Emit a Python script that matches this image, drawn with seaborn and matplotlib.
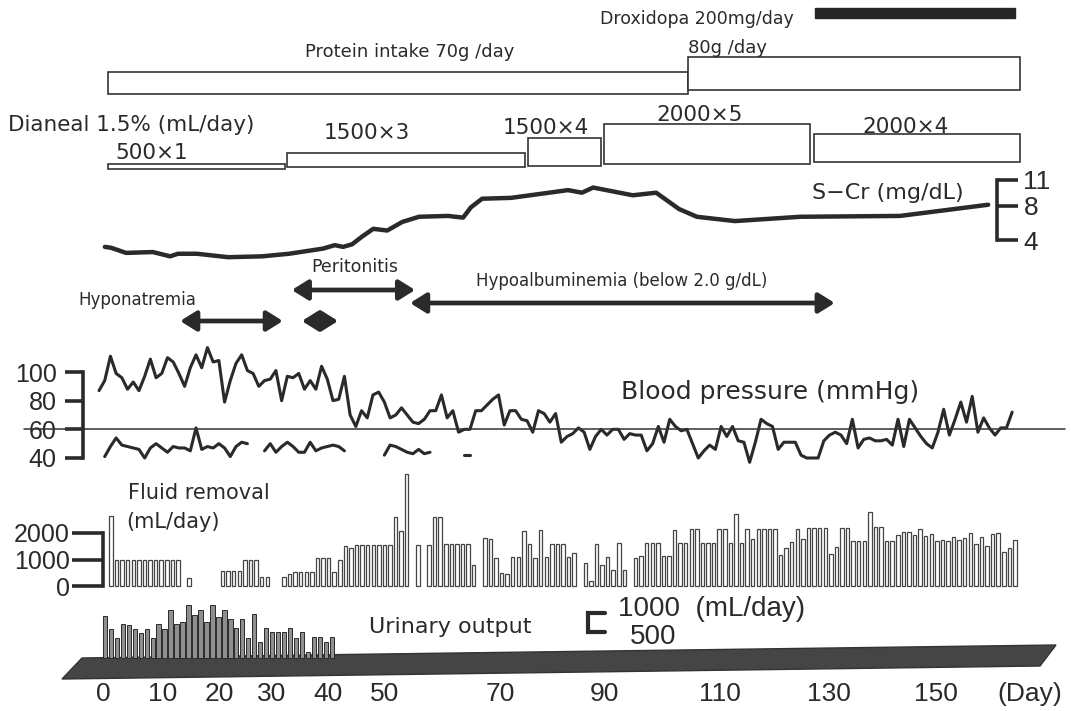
import numpy as np
import pandas as pd
import matplotlib
matplotlib.use("Agg")
import matplotlib.pyplot as plt
import seaborn as sns
from matplotlib.patches import Polygon

nan = np.nan

# ---------------- data ----------------
protein_labels = ["Protein intake 70g /day", "80g /day"]
protein_start = [-0.5, 103.4]
protein_end = [103.4, 162.9]

droxidopa_label = "Droxidopa 200mg/day"
droxidopa_start = [126.2]
droxidopa_end = [162.0]

dianeal_title = "Dianeal 1.5% (mL/day)"
dianeal_labels = ["500×1", "1500×3", "1500×4", "2000×5", "2000×4"]
dianeal_start = [-0.5, 31.5, 74.7, 88.4, 126.0]
dianeal_end = [31.2, 74.2, 87.8, 125.3, 162.9]

event_labels = ["Hyponatremia", "Peritonitis", "", "Hypoalbuminemia (below 2.0 g/dL)"]
event_start = [12.4, 32.4, 34.2, 53.6]
event_end = [30.8, 54.5, 40.7, 129.7]

scr_day = [-1.1, 0.0, 2.7, 7.5, 10.6, 12.0, 15.4, 21.0, 27.1, 31.9, 38.0, 40.1,
           41.6, 43.2, 45.0, 47.0, 49.5, 52.2, 55.2, 60.4, 63.1, 64.5, 66.5,
           71.7, 81.9, 84.4, 86.4, 93.5, 97.7, 101.8, 105.0, 111.8, 123.5,
           141.4, 157.2]
scr_value = [3.2, 3.1, 2.5, 2.6, 2.1, 2.4, 2.4, 2.0, 2.1, 2.4, 3.0, 3.4,
             3.2, 3.5, 4.4, 5.3, 5.1, 6.1, 6.7, 6.8, 6.6, 7.8, 8.8,
             8.9, 9.8, 9.5, 10.1, 9.2, 9.5, 7.6, 6.7, 6.2, 6.7,
             6.8, 8.1]

systolic = [87, 94, 111, 99, 96, 88, 93, 87, 97, 109,
            96, 99, 110, 107, 99, 90, 103, 112, 103, 117,
            107, 108, 79, 94, 106, 112, 101, 99, 90, 94,
            95, 101, 80, 97, 96, 99, 88, 94, 88, 104,
            95, 80, 81, 97, 70, 62, 73, 68, 84, 86,
            79, 68, 70, 75, 70, 65, 64, 67, 73, 73,
            84, 68, 73, 58, 60, 60, 73, 73, 77, 81,
            84, 63, 73, 73, 67, 66, 58, 73,
            71, 65, 71, 51, 55, 57, 61, 58, 46, 55,
            60, 56, 60, 60, 53, 57, 56, 56, 45, 50,
            62, 51, 67, 62, 59, 60, 50, 40,
            45, 49, 46, 62, 55, 62, 52, 51, 37, 51,
            67, 64, 62, 46, 51, 51, 51, 42, 40, 40,
            40, 52, 56, 58, 56, 50, 67, 47,
            53, 54, 52, 52, 53, 49, 67, 48, 67, 61,
            55, 50, 47, 58, 74, 56, 67, 79, 65, 83,
            58, 68, 61, 56, 61, 61, 72]
bp_first_day, bp_last_day = -2.15, 161.5

# diastolic pressure: pieces, each starting at a sample index of the systolic series
diastolic_start_index = [1, 29, 50, 64]
diastolic_pieces = [
    [41, 48, 54, 49, 48, 47, 46, 40, 47, 50, 47, 44, 48, 47, 47, 45, 61, 46,
     48, 47, 50, 47, 41, 48, 51, 50],
    [45, 50, 44, 48, 51, 48, 44, 44, 51, 45, 47, 48, 49, 48, 45],
    [42, 49, 48, 46, 44, 43, 46, 43, 44],
    [42, 42],
]

# fluid removal, mL/day, day 0 .. 162 (nan = no bar)
fluid_removal = [
    2660, 975, 975, 975, 975, 975, 975, 975, 975, 975, 975, 975, 975,
    nan, 290, nan, nan, nan, nan, nan,
    560, 560, 560, 560, 1000, 1000, 1000, 350, 350,
    nan, nan,
    350, 450, 540, 540, 540, 540, 1040, 1040, 1040, 540,
    1000, 1500, 1450, 1540, 1540, 1540, 1540, 1540, 1540, 1540,
    2600, 2075, 4225, nan, 1540, nan, 1540, 2600, 2600, 1580,
    1580, 1580, 1580, 1580, 790, nan, 1825, 1790, 1075, 500,
    450, 1100, 1100, 2075, 1600, 1075, 2125, 1100, 1600, 1600,
    1600, 1100, 1250, nan, 850, 200, 1600, 790, 1100, 600,
    1625, 600, nan,
    1040, 1125, 1625, 1625, 1625, 1125, 1125, 2125, 1625, 1625,
    2160, 2160, 1625, 1625, 1625, 2160, 2160, 1625, 2725, 1625,
    2160, 1760, 2160, 2160, 2160, 2160, 1160, 1450, 1660, 2160,
    1790, 2200, 2200, 2200, 2200, 1200, 1475, 2200, 2200, 1700,
    1700, 1700, 2790, 2225, 2225, 1700, 1700, 1910, 2040, 2040,
    1910, 2160, 1875, 1975, 1700, 1750, 1700, 1850, 1725, 1825,
    2000, 1600, 1850, 1500, 1950, 2000, 1290, 1450, 1750,
]

# urinary output, mL/day
urine_output = [1010, 680, 470, 800, 790, 690, 590, 690, 470, 800,
                690, 1140, 800, 860, 1260, 1020, 1140, 860, 1260, 980,
                1140, 930, 710, 940, 480, 1040, 370, 720, 610, 610,
                610, 720, 480, 610, 150, 510, 510, 390, 510]
urine_first_day, urine_last_day = -1.1, 39.6

day_tick_labels = ["0", "10", "20", "30", "40", "50", "70", "90", "110", "130", "150", "(Day)"]

# ---------------- layout (pixels of the 1071x711 canvas) ----------------
W, H = 1071, 711
X0, PPD = 111, 5.58                      # pixel of day 0, pixels per day
XLIM = (-X0 / PPD, (W - X0) / PPD)
day_tick_pos = [-1.4, 9.3, 19.35, 28.7, 38.9, 49.1, 69.7, 88.5, 109.1, 128.7, 147.8, 164.7]

protein_top_px, protein_bot_px = [72, 57], [94, 90]
drox_top_px, drox_bot_px = [8], [18]
dianeal_top_px = [164, 153, 138, 124, 134]
dianeal_bot_px = [169, 167, 166, 164, 162]
event_y_px = [321, 290, 321, 303]

INK = "#2a2a2a"
NUM = ["Liberation Sans", "DejaVu Sans"]


def rect(top, bottom):
    return [0, 1 - bottom / H, 1, (bottom - top) / H]


sns.set_theme(style="white")
plt.rcParams["font.family"] = ["DejaVu Sans"]
plt.rcParams["axes.facecolor"] = "none"

fig = plt.figure(figsize=(W / 100, H / 100), dpi=100)
fig.patch.set_facecolor("white")


def clean(ax):
    for s in ax.spines.values():
        s.set_visible(False)
    ax.set_xlim(*XLIM)
    ax.set_xticks([])
    ax.set_yticks([])
    ax.set_xlabel("")
    ax.set_ylabel("")


def period_bars(ax, start, end, top, bot, **kw):
    ax.bar(x=start, height=np.subtract(bot, top), width=np.subtract(end, start),
           bottom=top, align="edge", **kw)


# ---- top treatment bars ----
ax_top = fig.add_axes(rect(0, 180))
period_bars(ax_top, protein_start, protein_end, protein_top_px, protein_bot_px,
            facecolor="white", edgecolor="#333", lw=1.2)
period_bars(ax_top, droxidopa_start, droxidopa_end, drox_top_px, drox_bot_px,
            facecolor="#262626", edgecolor="#262626", lw=1)
period_bars(ax_top, dianeal_start, dianeal_end, dianeal_top_px, dianeal_bot_px,
            facecolor="white", edgecolor="#333", lw=1.2)
clean(ax_top)
ax_top.set_ylim(180, 0)

# ---- S-Cr ----
ax_scr = fig.add_axes(rect(170, 262))
sns.lineplot(x=scr_day, y=scr_value, ax=ax_scr, color=INK, lw=3.2)
clean(ax_scr)
ax_scr.set_ylim(4 - 22 / 8.6, 4 + 70 / 8.6)
ax_scr.spines["right"].set_visible(True)
ax_scr.spines["right"].set_position(("data", (997 - X0) / PPD))
ax_scr.spines["right"].set_bounds(4, 11)
ax_scr.spines["right"].set_linewidth(2.6)
ax_scr.spines["right"].set_color(INK)
ax_scr.yaxis.tick_right()
ax_scr.set_yticks([4, 8, 11])
ax_scr.tick_params(axis="y", right=True, left=False, labelright=True, labelleft=False,
                   length=15, width=2.6, pad=4, labelsize=19, color=INK, labelcolor=INK)
for t in ax_scr.get_yticklabels():
    t.set_fontfamily(NUM)

# ---- events ----
ax_ev = fig.add_axes(rect(250, 340))
clean(ax_ev)
ax_ev.set_ylim(340, 250)
for s, e, y in zip(event_start, event_end, event_y_px):
    ax_ev.annotate("", xy=(e, y), xytext=(s, y),
                   arrowprops=dict(arrowstyle="<|-|>,head_length=0.8,head_width=0.5",
                                   lw=3.4, color=INK, shrinkA=0, shrinkB=0))

# ---- blood pressure ----
bp_days = np.linspace(bp_first_day, bp_last_day, len(systolic))
ax_bp = fig.add_axes(rect(340, 475))
sns.lineplot(x=bp_days, y=systolic, ax=ax_bp, color=INK, lw=2.2)
rows = []
for k, (i0, piece) in enumerate(zip(diastolic_start_index, diastolic_pieces)):
    for j, v in enumerate(piece):
        rows.append({"day": bp_days[i0 + j], "mmHg": v, "piece": k})
dia = pd.DataFrame(rows)
sns.lineplot(data=dia, x="day", y="mmHg", units="piece", estimator=None, ax=ax_bp,
             color=INK, lw=2.2)
clean(ax_bp)
ax_bp.set_ylim(40 - 17 / 1.4333, 100 + 32 / 1.4333)
ax_bp.axhline(60, xmin=24 / W, xmax=1065 / W, color="#333", lw=1.1)
ax_bp.spines["left"].set_visible(True)
ax_bp.spines["left"].set_position(("data", (83 - X0) / PPD))
ax_bp.spines["left"].set_bounds(40, 100)
ax_bp.spines["left"].set_linewidth(2.6)
ax_bp.spines["left"].set_color(INK)
ax_bp.set_yticks([40, 60, 80, 100])
ax_bp.tick_params(axis="y", left=True, length=13, width=2.6, pad=6, labelsize=18,
                  color=INK, labelcolor=INK)
for t in ax_bp.get_yticklabels():
    t.set_fontfamily(NUM)

# ---- fluid removal ----
fl = pd.DataFrame({"day": np.arange(len(fluid_removal)), "ml": fluid_removal}).dropna()
ax_fl = fig.add_axes(rect(455, 595))
sns.barplot(data=fl, x="day", y="ml", native_scale=True, orient="x", ax=ax_fl,
            color="white", edgecolor="#444", linewidth=0.9, width=0.62,
            errorbar=None, saturation=1)
clean(ax_fl)
ax_fl.set_ylim(-(595 - 586) / 0.0265, (586 - 455) / 0.0265)
ax_fl.spines["left"].set_visible(True)
ax_fl.spines["left"].set_position(("data", (103 - X0) / PPD))
ax_fl.spines["left"].set_bounds(0, 2000)
ax_fl.spines["left"].set_linewidth(2.6)
ax_fl.spines["left"].set_color(INK)
ax_fl.set_yticks([0, 1000, 2000])
ax_fl.tick_params(axis="y", left=True, length=22, width=2.6, pad=2, labelsize=18,
                  color=INK, labelcolor=INK)
for t in ax_fl.get_yticklabels():
    t.set_fontfamily(NUM)

# ---- urinary output + day axis ----
ax_an = fig.add_axes([0, 0, 1, 1])
ax_an.set_xlim(0, W)
ax_an.set_ylim(H, 0)
ax_an.axis("off")
ax_an.add_patch(Polygon([(62, 679), (82, 658), (1056, 645), (1040, 666)], closed=True,
                        facecolor="#454545", edgecolor="#333", lw=1))

urine_days = np.linspace(urine_first_day, urine_last_day, len(urine_output))
ax_ur = fig.add_axes(rect(598, 676))
sns.barplot(x=urine_days, y=urine_output, native_scale=True, orient="x", ax=ax_ur,
            color="#8f8f8f", edgecolor="#2a2a2a", linewidth=0.7, width=0.72,
            errorbar=None, saturation=1)
clean(ax_ur)
ax_ur.set_ylim(-(676 - 658) * 23.8, (658 - 598) * 23.8)
ax_ur.set_xticks(day_tick_pos)
ax_ur.set_xticklabels(day_tick_labels)
ax_ur.tick_params(axis="x", bottom=True, length=0, pad=4, labelsize=19, labelcolor=INK)
for t in ax_ur.get_xticklabels():
    t.set_fontfamily(NUM)

# ---- text annotations ----
texts = [
    (droxidopa_label, 697, 19, 12.5, "center", None),
    (protein_labels[0], 410, 52, 13, "center", None),
    (protein_labels[1], 688, 48, 13, "left", None),
    (dianeal_title, 8, 125, 15.5, "left", None),
    (dianeal_labels[0], 152, 153, 15.5, "center", None),
    (dianeal_labels[1], 367, 133, 15.5, "center", None),
    (dianeal_labels[2], 546, 128, 15.5, "center", None),
    (dianeal_labels[3], 700, 115, 15.5, "center", None),
    (dianeal_labels[4], 906, 127, 15.5, "center", None),
    ("S−Cr (mg/dL)", 888, 193, 16, "center", None),
    (event_labels[0], 78, 300, 12, "left", None),
    (event_labels[1], 355, 267, 12.5, "center", None),
    (event_labels[3], 622, 281, 12, "center", None),
    ("Blood pressure (mmHg)", 770, 392, 18, "center", None),
    ("Fluid removal", 128, 493, 15, "left", None),
    ("(mL/day)", 126, 522, 15, "left", None),
    ("Urinary output", 450, 627, 16, "center", None),
    ("1000  (mL/day)", 618, 609, 20, "left", NUM),
    ("500", 630, 637, 20, "left", NUM),
]
for s, x, y, size, ha, fam in texts:
    kw = {"family": fam} if fam else {}
    ax_an.text(x, y, s, fontsize=size, ha=ha, va="center", color=INK, **kw)
ax_an.plot([605, 588, 588, 605], [613, 613, 632, 632], color=INK, lw=3,
           solid_joinstyle="miter")

fig.savefig("out.png", dpi=100)
